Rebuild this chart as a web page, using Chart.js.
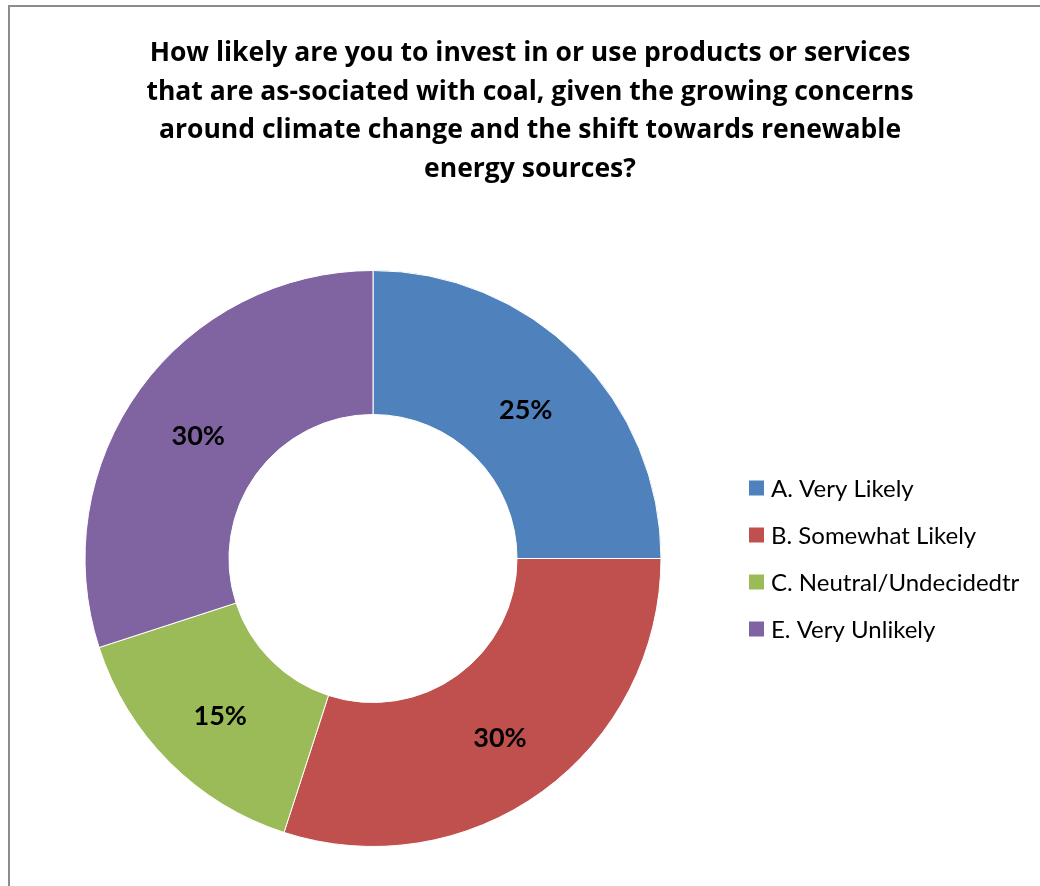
<!DOCTYPE html>
<html>
<head>
<meta charset="utf-8">
<script src="https://cdn.jsdelivr.net/npm/chart.js@4.4.0/dist/chart.umd.min.js"></script>
<style>
  html, body { margin: 0; padding: 0; background: #fff; overflow: hidden; }
  #frame {
    position: absolute; left: 8px; top: 5px;
    width: 1100px; height: 950px;
    border: 2px solid #8c8c8c; box-sizing: border-box;
  }
  #wrap { position: absolute; left: 0; top: 0; width: 1040px; height: 886px; }
</style>
</head>
<body>
<div id="frame"></div>
<div id="wrap"><canvas id="donut"></canvas></div>
<script>
const categories = ['A. Very Likely', 'B. Somewhat Likely', 'C. Neutral/Undecidedtr', 'E. Very Unlikely'];
const shares = [25, 30, 15, 30];
const sliceColors = ['#4F81BD', '#C0504D', '#9BBB59', '#8064A2'];
const titleLines = [
    'How likely are you to invest in or use products or services',
    'that are as-sociated with coal, given the growing concerns',
    'around climate change and the shift towards renewable',
    'energy sources?'
];

const TITLE_FONT = '"Open Sans", sans-serif';
const FONT = 'Lato, "Open Sans", sans-serif';

// four-line heading centred over the whole frame
const heading = {
    id: 'heading',
    afterDraw(chart) {
        const ctx = chart.ctx;
        ctx.save();
        ctx.font = 'bold 26.5px ' + TITLE_FONT;
        ctx.fillStyle = '#000';
        ctx.textAlign = 'center';
        ctx.textBaseline = 'alphabetic';
        titleLines.forEach((line, i) => ctx.fillText(line, 530, 61 + i * 38.5));
        ctx.restore();
    }
};

// percentage text in the middle of each ring segment
const sliceLabels = {
    id: 'sliceLabels',
    afterDatasetsDraw(chart) {
        const ctx = chart.ctx;
        const meta = chart.getDatasetMeta(0);
        ctx.save();
        ctx.font = 'bold 27px ' + FONT;
        ctx.fillStyle = '#000';
        ctx.textAlign = 'center';
        ctx.textBaseline = 'middle';
        meta.data.forEach((arc, i) => {
            const p = arc.tooltipPosition();
            ctx.fillText(shares[i] + '%', p.x, p.y + 5);
        });
        ctx.restore();
    }
};

// legend block on the right side
const sideLegend = {
    id: 'sideLegend',
    afterDraw(chart) {
        const ctx = chart.ctx;
        const x = 749, y0 = 488, step = 47;
        ctx.save();
        ctx.font = '24px ' + FONT;
        ctx.textBaseline = 'middle';
        categories.forEach((name, i) => {
            const y = y0 + i * step;
            ctx.fillStyle = sliceColors[i];
            ctx.fillRect(x, y - 7.5, 15, 15);
            ctx.fillStyle = '#000';
            ctx.fillText(name, x + 22, y + 1);
        });
        ctx.restore();
    }
};

new Chart(document.getElementById('donut'), {
    type: 'doughnut',
    data: {
        labels: categories,
        datasets: [{
            data: shares,
            backgroundColor: sliceColors,
            borderColor: '#ffffff',
            borderWidth: 1
        }]
    },
    options: {
        responsive: true,
        maintainAspectRatio: false,
        animation: false,
        cutout: '50%',
        layout: { padding: { left: 84, right: 378, top: 270, bottom: 39 } },
        plugins: {
            legend: { display: false },
            tooltip: { enabled: false },
            title: { display: false }
        }
    },
    plugins: [heading, sliceLabels, sideLegend]
});
</script>
</body>
</html>
